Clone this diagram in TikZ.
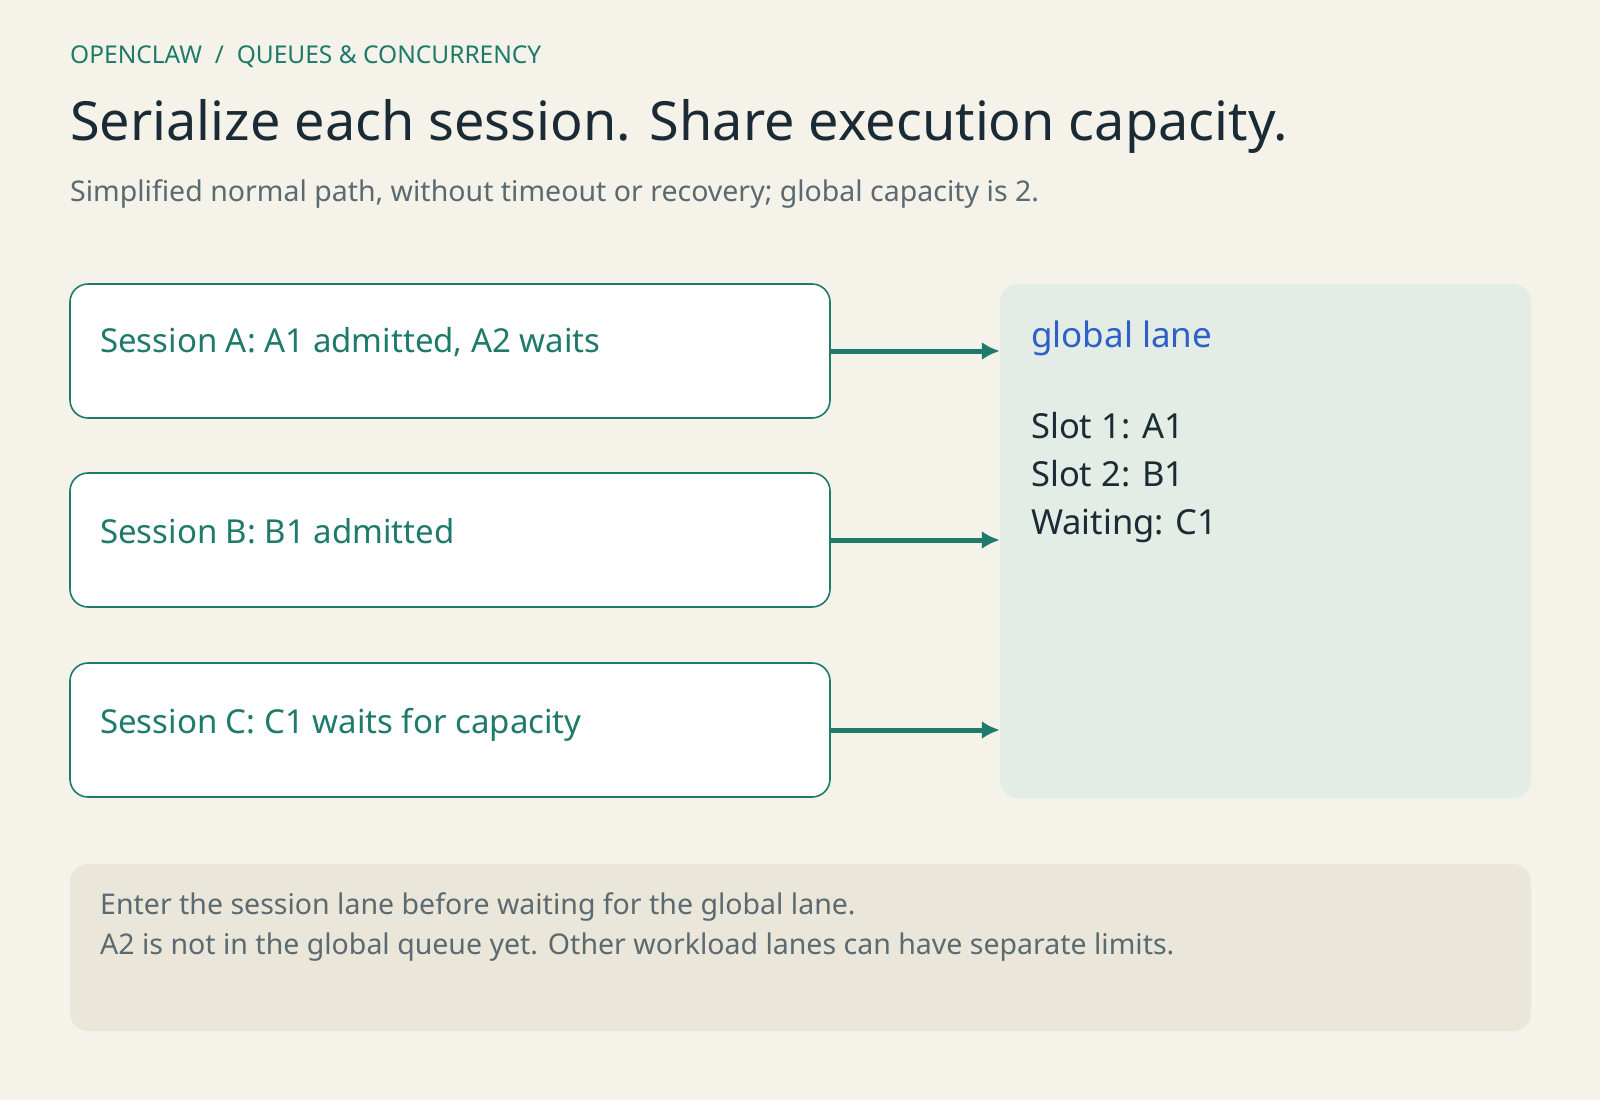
\documentclass[tikz,border=0pt]{standalone}
\usepackage{fontspec}
\setmainfont{Noto Sans}
\usetikzlibrary{positioning,calc,arrows.meta}
\definecolor{bgcol}{HTML}{F5F2EA}
\definecolor{teal}{HTML}{1E7A6A}
\definecolor{ink}{HTML}{1B2B35}
\definecolor{muted}{HTML}{5A6A70}
\definecolor{laneblue}{HTML}{2F5FC8}
\definecolor{lanefill}{HTML}{E3ECE5}
\definecolor{notefill}{HTML}{EAE6DA}
\tikzset{
    sessbox/.style={draw=teal, line width=1.6pt, fill=white, rounded corners=18pt, minimum width=760pt, minimum height=134pt, inner sep=0pt},
    txt/.style={anchor=base west, inner sep=0pt},
    lanearrow/.style={draw=teal, line width=5pt, -{Latex[length=18pt,width=18pt]}}
}
\begin{document}
\begin{tikzpicture}[x=1pt, y=-1pt]

    % page
    \fill[bgcol] (0,0) rectangle (1600,1100);
    \useasboundingbox (0,0) rectangle (1600,1100);

    % heading
    \node[txt, text=teal, font=\fontsize{24.5}{29}\selectfont] (kicker) at (70,63) {OPENCLAW \ / \ QUEUES \& CONCURRENCY};
    \node[txt, text=ink, font=\fontsize{54}{64}\selectfont] (title) at (70,140) {Serialize each session. Share execution capacity.};
    \node[txt, text=muted, font=\fontsize{28.5}{34}\selectfont] (sub) at (70,201) {Simplified normal path, without timeout or recovery; global capacity is 2.};

    % sessions
    \node[sessbox] (sessA) at (450,351) {};
    \node[sessbox] (sessB) at (450,540) {};
    \node[sessbox] (sessC) at (450,730) {};
    \node[txt, text=teal, font=\fontsize{33}{40}\selectfont] (textA) at (100,352) {Session A: A1 admitted, A2 waits};
    \node[txt, text=teal, font=\fontsize{33}{40}\selectfont] (textB) at (100,543) {Session B: B1 admitted};
    \node[txt, text=teal, font=\fontsize{33}{40}\selectfont] (textC) at (100,733) {Session C: C1 waits for capacity};

    % global lane
    \node[fill=lanefill, rounded corners=18pt, minimum width=531pt, minimum height=514pt, inner sep=0pt] (lane) at (1265.5,541) {};
    \node[txt, text=laneblue, font=\fontsize{35}{42}\selectfont] (laneTitle) at (1031,347) {global lane};
    \node[txt, text=ink, font=\fontsize{34.5}{41}\selectfont] (slot1) at (1031,438) {Slot 1: A1};
    \node[txt, text=ink, font=\fontsize{34.5}{41}\selectfont] (slot2) at (1031,486) {Slot 2: B1};
    \node[txt, text=ink, font=\fontsize{34.5}{41}\selectfont] (waiting) at (1031,534) {Waiting: C1};

    \draw[lanearrow] (sessA.east) -- (sessA.east -| lane.west);
    \draw[lanearrow] (sessB.east) -- (sessB.east -| lane.west);
    \draw[lanearrow] (sessC.east) -- (sessC.east -| lane.west);

    % note
    \node[fill=notefill, rounded corners=18pt, minimum width=1461pt, minimum height=167pt, inner sep=0pt] (note) at (800.5,947.5) {};
    \node[txt, text=muted, font=\fontsize{28.5}{34}\selectfont] (note1) at (100,914) {Enter the session lane before waiting for the global lane.};
    \node[txt, text=muted, font=\fontsize{28.5}{34}\selectfont] (note2) at (100,954) {A2 is not in the global queue yet. Other workload lanes can have separate limits.};

\end{tikzpicture}
\end{document}
